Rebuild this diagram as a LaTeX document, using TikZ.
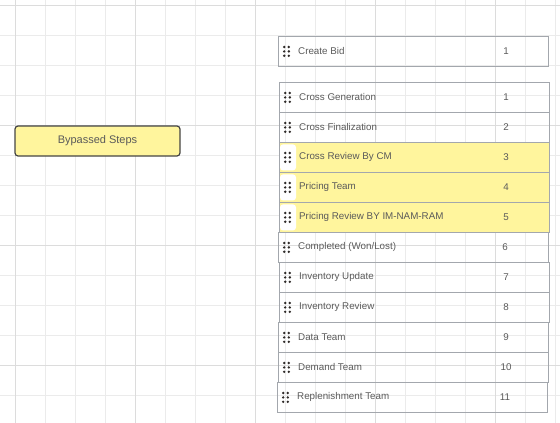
\documentclass[tikz,border=0pt]{standalone}
\usepackage{fontspec}
\setmainfont{Liberation Sans}
\definecolor{gridminor}{HTML}{EBEBEB}
\definecolor{gridmajor}{HTML}{DCDCDC}
\definecolor{rowgray}{HTML}{A3A7AD}
\definecolor{txtgray}{HTML}{5A5A5A}
\definecolor{hiyellow}{HTML}{FFF59D}
\definecolor{boxborder}{HTML}{454545}
\definecolor{dotcol}{HTML}{2E2A28}
\tikzset{
  rowbox/.style={draw=rowgray, line width=0.8pt, minimum width=270pt, minimum height=30pt, anchor=north west, inner sep=0pt},
  hirow/.style={rowbox, fill=hiyellow},
  lbl/.style={anchor=west, text=txtgray, font=\fontsize{9.8}{11}\selectfont, inner sep=0pt},
  numlbl/.style={anchor=center, text=txtgray, font=\fontsize{9.8}{11}\selectfont, inner sep=0pt},
  handle/.pic={
    \fill[dotcol] (-2.3,-4.4) circle (1.35pt) (2.3,-4.4) circle (1.35pt)
                   (-2.3,0) circle (1.35pt) (2.3,0) circle (1.35pt)
                   (-2.3,4.4) circle (1.35pt) (2.3,4.4) circle (1.35pt);
  },
  handlebg/.pic={
    \fill[white, rounded corners=3pt] (-8,-13) rectangle (8,13);
  }
}
\begin{document}
\begin{tikzpicture}[x=1pt,y=-1pt]
\useasboundingbox (0,0) rectangle (560,423);
% grid
\foreach \x in {15,45,...,555} \draw[gridminor, line width=0.7pt] (\x,0) -- (\x,423);
\foreach \y in {5,35,...,395} \draw[gridminor, line width=0.7pt] (0,\y) -- (560,\y);
\foreach \x in {15,135,255,375,495} \draw[gridmajor, line width=0.8pt] (\x,0) -- (\x,423);
\foreach \y in {5,125,245,365} \draw[gridmajor, line width=0.8pt] (0,\y) -- (560,\y);

% bypassed steps box
\node[draw=boxborder, line width=1.2pt, fill=hiyellow, rounded corners=3pt,
      minimum width=165pt, minimum height=30pt, inner sep=0pt,
      text=txtgray, font=\fontsize{11}{13}\selectfont] (bypass) at (97.5,141) {Bypassed Steps};

% rows
\node[rowbox] (r0) at (278,36) {};
\node[rowbox] (r1) at (279,82) {};
\node[rowbox] (r2) at (279,112) {};
\node[hirow] (r3) at (279,142) {};
\node[hirow] (r4) at (279,172) {};
\node[hirow] (r5) at (279,202) {};
\node[rowbox] (r6) at (278,232) {};
\node[rowbox] (r7) at (279,262) {};
\node[rowbox] (r8) at (279,292) {};
\node[rowbox] (r9) at (278,322) {};
\node[rowbox] (r10) at (278,352) {};
\node[rowbox] (r11) at (277,382) {};

\foreach \r in {r3,r4,r5} \pic at ([xshift=9pt]\r.west) {handlebg};
\foreach \r in {r0,r1,r2,r3,r4,r5,r6,r7,r8,r9,r10,r11} \pic at ([xshift=8.5pt]\r.west) {handle};

\node[lbl] (t0) at ([xshift=20pt,yshift=0.5pt]r0.west) {Create Bid};
\node[lbl] (t1) at ([xshift=20pt]r1.west) {Cross Generation};
\node[lbl] (t2) at ([xshift=20pt]r2.west) {Cross Finalization};
\node[lbl] (t3) at ([xshift=20pt]r3.west) {Cross Review By CM};
\node[lbl] (t4) at ([xshift=20pt]r4.west) {Pricing Team};
\node[lbl] (t5) at ([xshift=20pt]r5.west) {Pricing Review BY IM-NAM-RAM};
\node[lbl] (t6) at ([xshift=20pt]r6.west) {Completed (Won/Lost)};
\node[lbl] (t7) at ([xshift=20pt]r7.west) {Inventory Update};
\node[lbl] (t8) at ([xshift=20pt]r8.west) {Inventory Review};
\node[lbl] (t9) at ([xshift=20pt]r9.west) {Data Team};
\node[lbl] (t10) at ([xshift=20pt]r10.west) {Demand Team};
\node[lbl] (t11) at ([xshift=20pt]r11.west) {Replenishment Team};

\node[numlbl] (n0) at ([xshift=228pt]r0.west) {1};
\node[numlbl] (n1) at ([xshift=227pt]r1.west) {1};
\node[numlbl] (n2) at ([xshift=227pt]r2.west) {2};
\node[numlbl] (n3) at ([xshift=227pt]r3.west) {3};
\node[numlbl] (n4) at ([xshift=227pt]r4.west) {4};
\node[numlbl] (n5) at ([xshift=227pt]r5.west) {5};
\node[numlbl] (n6) at ([xshift=227pt]r6.west) {6};
\node[numlbl] (n7) at ([xshift=227pt]r7.west) {7};
\node[numlbl] (n8) at ([xshift=227pt]r8.west) {8};
\node[numlbl] (n9) at ([xshift=228pt]r9.west) {9};
\node[numlbl] (n10) at ([xshift=228pt]r10.west) {10};
\node[numlbl] (n11) at ([xshift=228pt]r11.west) {11};
\end{tikzpicture}
\end{document}
